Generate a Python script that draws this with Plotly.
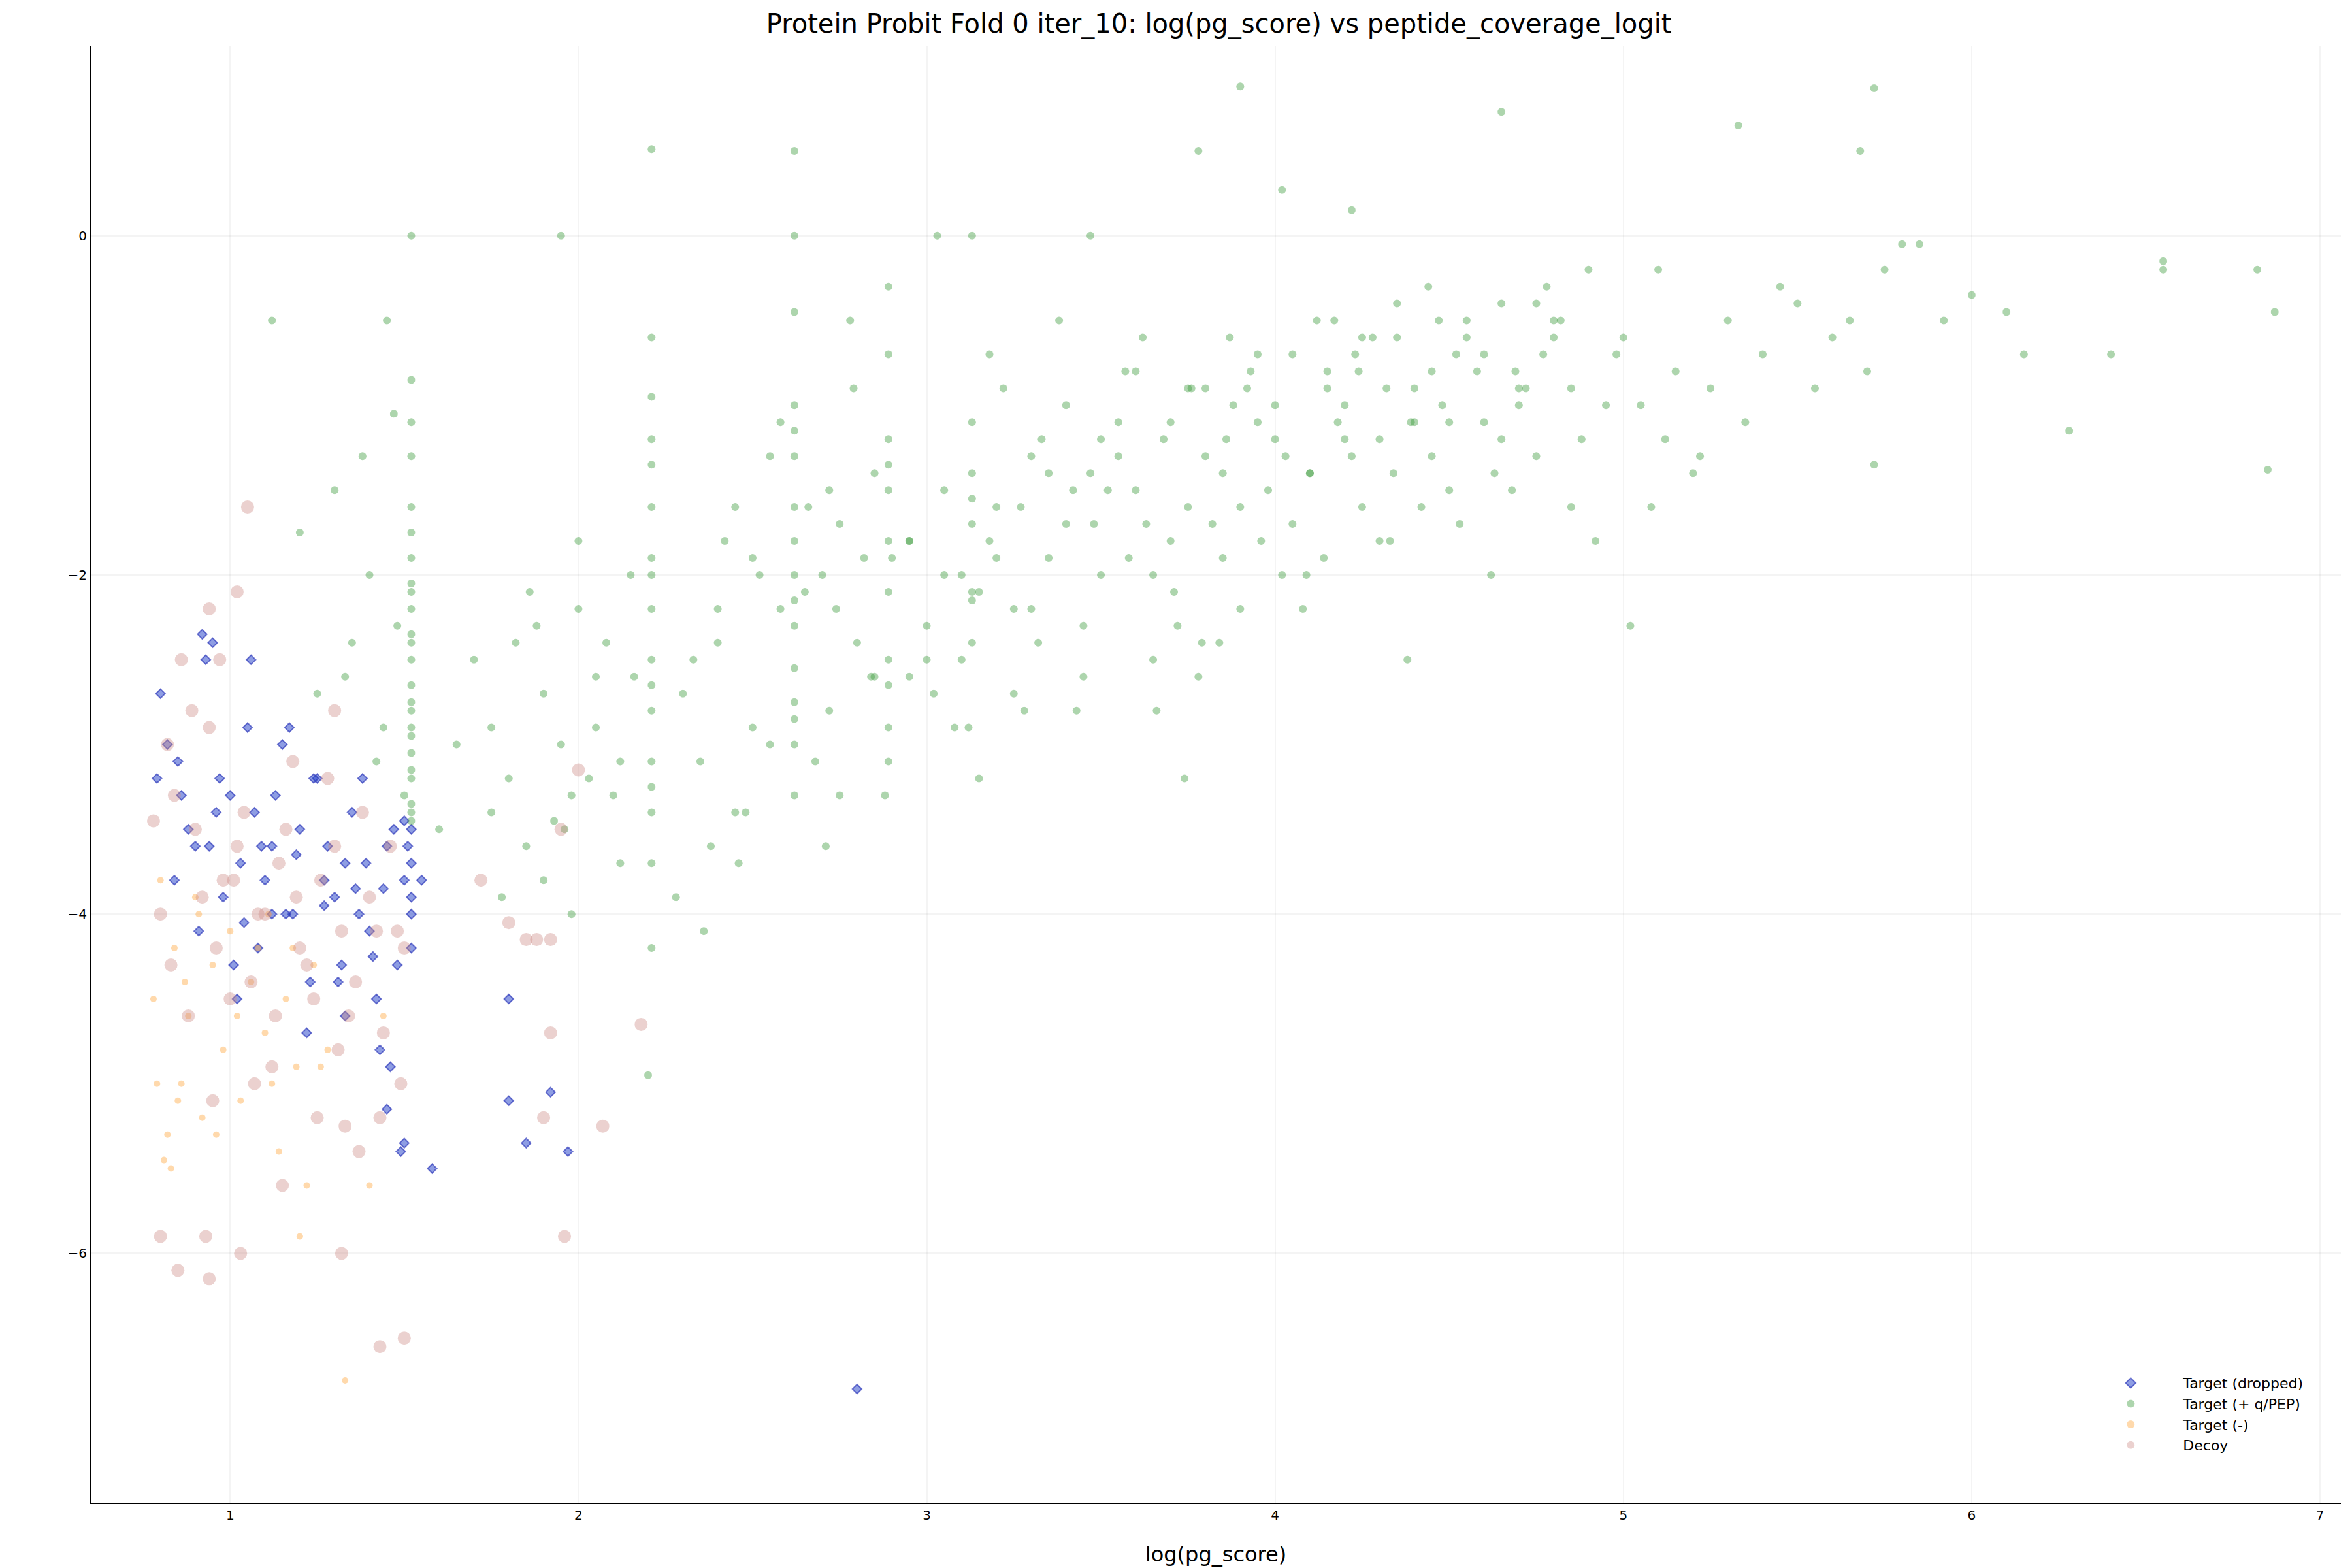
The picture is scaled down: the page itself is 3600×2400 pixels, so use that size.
import plotly.graph_objects as go

# Target (+ q/PEP) - green
green_x = [1.52,1.52,1.52,1.52,1.52,1.52,1.52,1.52,1.52,1.52,1.52,1.52,1.52,1.52,1.52,1.52,1.52,1.52,
           1.12,1.45,1.30,1.38,1.48,1.40,1.25,1.35,1.44,1.50,1.20,1.42,1.33,1.47,
           1.7,1.8,1.9,1.95,2.0,2.05,2.1,1.85,1.75,2.15,1.93,2.0,2.08,1.88,2.12,1.98,
           2.21,2.21,2.21,2.21,2.21,2.21,2.21,2.21,2.21,2.21,2.21,2.21,
           2.3,2.35,2.4,2.45,2.5,2.55,2.38,2.48,2.28,2.52,2.42,2.33,2.58,2.46,2.36,2.2,
           2.62,2.62,2.62,2.62,2.62,2.62,2.62,2.62,2.62,2.62,2.62,2.62,
           2.7,2.75,2.8,2.85,2.72,2.78,2.68,2.82,2.74,2.88,2.66,2.79,2.71,2.84,
           2.89,2.89,2.89,2.89,2.89,2.89,2.89,2.89,2.89,
           2.95,3.0,3.05,3.1,3.13,3.13,3.13,3.13,3.13,3.2,3.25,3.3,3.35,3.4,3.45,3.5,3.02,3.08,3.18,3.28,3.38,3.48,3.15,3.22,3.32,3.42,
           3.55,3.6,3.65,3.7,3.75,3.8,3.85,3.9,3.95,3.58,3.68,3.78,3.88,3.98,3.62,3.72,3.82,3.92,3.52,3.66,3.76,3.86,3.96,3.74,3.84,
           4.0,4.05,4.1,4.15,4.2,4.25,4.3,4.35,4.4,4.45,4.5,4.02,4.12,4.22,4.32,4.42,4.52,4.08,4.18,4.28,4.38,4.48,4.14,4.24,4.34,4.44,
           4.55,4.6,4.65,4.7,4.75,4.8,4.85,4.9,4.95,4.58,4.68,4.78,4.88,4.98,4.62,4.72,4.82,4.92,
           5.0,5.05,5.1,5.15,5.2,5.3,5.4,5.5,5.55,5.6,5.7,5.02,5.12,5.25,5.35,5.45,5.65,5.08,5.22,
           5.75,5.8,5.85,5.92,6.0,6.1,6.15,6.28,6.4,6.55,6.55,6.82,6.87,6.85,5.72,5.68,
           3.9,4.65,5.72,5.33,3.78,4.02,4.22,1.95,2.21,2.62,3.47,3.13,3.03,
           # extra cloud points
           3.1,3.2,3.3,3.4,3.5,3.6,3.7,3.8,3.9,4.0,4.1,4.2,4.3,4.4,4.5,4.6,4.7,4.8,
           3.15,3.25,3.35,3.45,3.55,3.65,3.75,3.85,3.95,4.05,4.15,4.25,4.35,4.45,4.55,4.65,4.75,4.85,
           3.12,3.27,3.43,3.57,3.71,3.87,4.03,4.17,4.33,4.47,4.63,4.77,
           2.95,3.05,3.18,3.33,3.47,3.63,3.79,3.93,4.09,4.23,4.39,4.53,4.69,
           2.4,2.5,2.55,2.65,2.75,2.85,2.95,3.0,2.45,2.58,2.72,2.9,
           1.6,1.65,1.75,1.82,1.9,1.98,2.05,2.12,2.16,1.78,1.86,1.96,2.03,
           1.52,1.52,1.52,1.52,1.52,1.52,2.21,2.21,2.21,2.21,2.62,2.62,2.62,2.89,2.89,3.13,3.13]
green_y = [0.0,-0.85,-1.1,-1.3,-1.6,-1.75,-1.9,-2.05,-2.2,-2.35,-2.5,-2.65,-2.8,-2.95,-3.05,-3.2,-3.35,-3.45,
           -0.5,-0.5,-1.5,-1.3,-2.3,-2.0,-2.7,-2.4,-2.9,-3.3,-1.75,-3.1,-2.6,-1.05,
           -2.5,-3.2,-2.7,-3.0,-2.2,-2.6,-3.3,-3.6,-2.9,-2.0,-3.45,-1.8,-2.4,-2.3,-3.7,-4.0,
           -0.6,-0.95,-1.35,-1.6,-1.9,-2.2,-2.5,-2.8,-3.1,-3.4,-3.7,-4.2,
           -2.7,-3.1,-2.2,-1.6,-2.9,-1.3,-3.6,-3.4,-3.9,-2.0,-1.8,-2.5,-1.1,-3.7,-4.1,-4.95,
           -0.0,-0.45,-1.0,-1.3,-1.6,-1.8,-2.0,-2.3,-2.55,-2.75,-3.0,-3.3,
           -2.0,-1.7,-2.4,-1.4,-2.8,-0.5,-3.1,-1.9,-2.2,-3.3,-1.6,-0.9,-3.6,-2.6,
           -0.3,-0.7,-1.2,-1.5,-1.8,-2.1,-2.5,-2.9,-3.1,
           -1.8,-2.3,-1.5,-2.0,-1.1,-1.4,-1.7,-2.1,-2.4,-1.6,-2.2,-1.3,-1.9,-1.0,-2.6,-1.2,-2.7,-2.9,-0.7,-2.8,-0.5,-1.7,-3.2,-0.9,-2.4,-1.5,
           -1.3,-0.8,-2.0,-1.1,-1.6,-0.9,-1.4,-2.2,-0.7,-1.9,-1.2,-2.6,-1.0,-1.5,-0.6,-2.3,-1.7,-0.9,-1.5,-2.8,-0.9,-1.2,-1.8,-3.2,-2.4,
           -1.0,-0.7,-1.4,-0.9,-1.2,-0.6,-1.8,-0.4,-1.1,-0.8,-1.5,-2.0,-0.5,-1.3,-0.9,-1.6,-0.7,-2.2,-1.1,-0.6,-2.5,-1.0,-1.9,-0.8,-1.4,-0.3,
           -0.6,-1.1,-0.4,-0.9,-1.3,-0.5,-1.6,-0.2,-1.0,-0.8,-1.5,-0.3,-1.2,-0.7,-2.0,-0.9,-0.5,-1.8,
           -0.6,-1.0,-0.2,-0.8,-1.4,-0.5,-0.7,-0.4,-0.9,-0.6,-0.8,-2.3,-1.2,-0.9,-1.1,-0.3,-0.5,-1.6,-1.3,
           -0.2,-0.05,-0.05,-0.5,-0.35,-0.45,-0.7,-1.15,-0.7,-0.15,-0.2,-0.2,-0.45,-1.38,-1.35,0.5,
           0.88,0.73,0.87,0.65,0.5,0.27,0.15,0.0,0.51,0.5,0.0,0.0,0.0,
           -2.5,-1.9,-2.2,-1.7,-2.0,-1.5,-1.8,-1.3,-1.6,-1.2,-1.4,-1.0,-1.2,-0.9,-1.1,-0.7,-1.0,-0.6,
           -2.1,-2.7,-1.4,-2.3,-1.1,-2.5,-0.9,-1.9,-1.1,-1.7,-0.8,-1.6,-0.6,-1.3,-0.5,-1.2,-0.4,-0.9,
           -2.9,-1.6,-2.8,-0.8,-2.1,-0.6,-1.3,-0.5,-1.8,-0.5,-1.4,-0.7,
           -2.6,-2.0,-1.8,-1.2,-1.4,-1.7,-2.4,-0.8,-2.0,-0.7,-1.1,-1.7,-0.8,
           -2.4,-1.9,-3.0,-2.1,-3.3,-2.6,-1.8,-2.5,-3.4,-2.2,-1.5,-1.9,
           -3.5,-3.0,-3.4,-2.4,-3.8,-3.3,-2.9,-3.1,-2.6,-3.9,-2.1,-3.5,-3.2,
           -2.1,-2.4,-2.75,-2.9,-3.15,-3.4,-1.2,-2.0,-2.65,-3.25,-1.15,-2.15,-2.85,-1.35,-2.65,-1.55,-2.15]

# Target (dropped) - blue diamonds
blue_x = [0.8,0.85,0.9,0.95,1.0,1.05,1.1,1.15,1.2,1.25,1.3,1.35,1.4,1.45,1.5,
          0.82,0.88,0.93,0.98,1.03,1.08,1.13,1.18,1.23,1.28,1.33,1.38,1.43,1.48,1.52,
          0.84,0.91,0.97,1.02,1.07,1.12,1.17,1.22,1.27,1.32,1.37,1.42,1.47,1.51,
          0.86,0.94,1.01,1.09,1.16,1.24,1.31,1.39,1.46,1.52,1.52,1.52,1.52,
          1.5,1.58,1.8,1.8,1.85,1.92,1.97,2.8,1.45,1.55,1.49,0.79,0.92,1.06,
          1.12,1.27,1.36,1.44,1.5,1.19,1.04,0.96,1.41,1.33]
blue_y = [-2.7,-3.1,-3.6,-2.4,-3.3,-2.9,-3.8,-3.0,-3.5,-3.2,-3.9,-3.4,-4.1,-3.6,-3.8,
          -3.0,-3.5,-2.5,-3.9,-3.7,-4.2,-3.3,-4.0,-4.4,-3.6,-4.6,-3.2,-4.8,-4.3,-3.9,
          -3.8,-4.1,-3.2,-4.5,-3.4,-4.0,-2.9,-4.7,-3.8,-4.3,-4.0,-4.5,-3.5,-3.6,
          -3.3,-3.6,-4.3,-3.6,-4.0,-3.2,-4.4,-3.7,-4.9,-3.7,-4.2,-4.0,-3.5,
          -5.35,-5.5,-4.5,-5.1,-5.35,-5.05,-5.4,-6.8,-5.15,-3.8,-5.4,-3.2,-2.35,-2.5,
          -3.6,-3.95,-3.85,-3.85,-3.45,-3.65,-4.05,-3.4,-4.25,-3.7]

# Target (-) - orange
orange_x = [0.78,0.8,0.82,0.84,0.86,0.88,0.9,0.92,0.95,0.98,1.0,1.03,1.06,1.1,1.14,1.18,1.22,1.26,
            0.79,0.83,0.87,0.91,0.96,1.02,1.08,1.12,1.16,1.2,1.24,1.28,1.33,1.4,1.44,0.81,0.85,1.11,1.19]
orange_y = [-4.5,-3.8,-5.3,-4.2,-5.0,-4.6,-3.9,-5.2,-4.3,-4.8,-4.1,-5.1,-4.4,-4.7,-5.4,-4.2,-5.6,-4.9,
            -5.0,-5.5,-4.4,-4.0,-5.3,-4.6,-4.2,-5.0,-4.5,-5.9,-4.3,-4.8,-6.75,-5.6,-4.6,-5.45,-5.1,-4.0,-4.9]

# Decoy - rosy
decoy_x = [0.78,0.82,0.86,0.9,0.94,0.98,1.02,1.06,1.1,1.14,1.18,1.22,1.26,1.3,1.34,1.38,1.42,1.46,1.5,
           0.8,0.84,0.88,0.92,0.96,1.0,1.04,1.08,1.12,1.16,1.2,1.24,1.28,1.32,1.36,1.4,1.44,1.48,
           0.83,0.89,0.95,1.01,1.07,1.13,1.19,1.25,1.31,1.37,1.43,1.49,
           0.8,0.85,0.93,1.03,1.32,1.43,1.5,0.94,1.05,1.02,0.97,0.94,
           1.72,1.8,1.85,1.9,1.92,1.96,2.0,2.07,2.18,1.95,1.88,1.92,1.15,1.3,1.33]
decoy_y = [-3.45,-3.0,-2.5,-3.5,-2.9,-3.8,-3.6,-4.4,-4.0,-3.7,-3.1,-4.3,-3.8,-3.6,-4.6,-3.4,-4.1,-3.6,-4.2,
           -4.0,-3.3,-4.6,-3.9,-4.2,-4.5,-3.4,-4.0,-4.9,-3.5,-4.2,-4.5,-3.2,-4.1,-4.4,-3.9,-4.7,-4.1,
           -4.3,-2.8,-5.1,-3.8,-5.0,-4.6,-3.9,-5.2,-4.8,-5.4,-5.2,-5.0,
           -5.9,-6.1,-5.9,-6.0,-6.0,-6.55,-6.5,-6.15,-1.6,-2.1,-2.5,-2.2,
           -3.8,-4.05,-4.15,-5.2,-4.7,-5.9,-3.15,-5.25,-4.65,-3.5,-4.15,-4.15,-5.6,-2.8,-5.25]

fig = go.Figure()
fig.add_trace(go.Scatter(x=blue_x, y=blue_y, mode="markers", name="Target (dropped)",
    marker=dict(symbol="diamond", size=11, color="rgba(30,60,200,0.5)",
                line=dict(color="rgba(30,40,180,0.6)", width=2))))
fig.add_trace(go.Scatter(x=green_x, y=green_y, mode="markers", name="Target (+ q/PEP)",
    marker=dict(size=12, color="rgba(50,150,50,0.4)")))
fig.add_trace(go.Scatter(x=orange_x, y=orange_y, mode="markers", name="Target (-)",
    marker=dict(size=10, color="rgba(255,170,70,0.45)")))
fig.add_trace(go.Scatter(x=decoy_x, y=decoy_y, mode="markers", name="Decoy",
    marker=dict(size=20, color="rgba(205,140,135,0.4)")))

fig.update_layout(
    width=3600, height=2400, plot_bgcolor="white", paper_bgcolor="white",
    margin=dict(l=131, r=25, t=62, b=108),
    font=dict(family="DejaVu Sans", color="black"),
    title=dict(text="Protein Probit Fold 0 iter_10: log(pg_score) vs peptide_coverage_logit",
               x=0.516, xanchor="center", y=0.994, yanchor="top", font=dict(size=40)),
    xaxis=dict(range=[0.6, 7.06], tickvals=[1,2,3,4,5,6,7], showgrid=True,
               gridcolor="rgba(0,0,0,0.045)", gridwidth=2, zeroline=False, showline=True,
               linecolor="black", linewidth=2, ticks="", tickfont=dict(size=20),
               title=dict(text="log(pg_score)", font=dict(size=32), standoff=38)),
    yaxis=dict(range=[-7.47, 1.12], tickvals=[0,-2,-4,-6], ticktext=["0","\u22122","\u22124","\u22126"],
               showgrid=True, gridcolor="rgba(0,0,0,0.045)", gridwidth=2, zeroline=False,
               showline=True, linecolor="black", linewidth=2, ticks="", tickfont=dict(size=20)),
    legend=dict(x=0.985, xanchor="right", y=0.03, yanchor="bottom", font=dict(size=22),
                bgcolor="rgba(255,255,255,0)", itemwidth=150, itemsizing="constant"),
)
fig.write_html("out.html")
